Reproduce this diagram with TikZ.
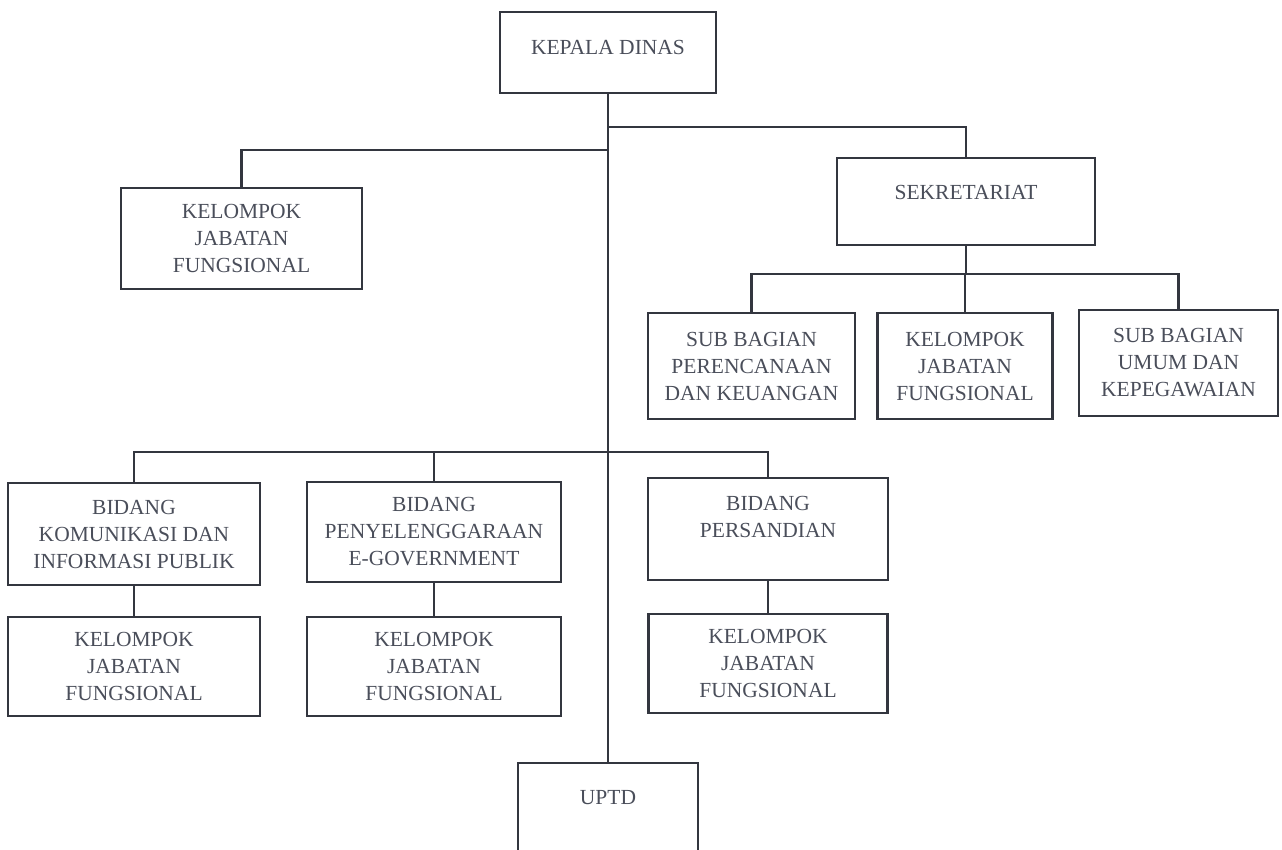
\documentclass[tikz,border=0pt]{standalone}
\usepackage{fontspec}
\setmainfont{Liberation Serif}
\definecolor{ink}{HTML}{33363F}
\definecolor{txtc}{HTML}{4A4E5A}
\begin{document}
\begin{tikzpicture}[x=1pt,y=-1pt,
  box/.style={draw=ink,line width=2.6pt,rectangle,inner sep=0pt,align=center,
    text=txtc,font=\fontsize{21.5}{27}\selectfont},
  conn/.style={draw=ink,line width=2.6pt}]
\useasboundingbox (0,0) rectangle (1282,850);
% boxes
\node[box,minimum width=216pt,minimum height=81pt,text depth=10pt] (kd) at (608,52.5) {KEPALA DINAS};
\node[box,minimum width=241pt,minimum height=101pt] (kjf0) at (241.5,238.5) {KELOMPOK\\JABATAN\\FUNGSIONAL};
\node[box,minimum width=258pt,minimum height=87pt,text depth=18pt] (sek) at (966,201.5) {SEKRETARIAT};
\node[box,minimum width=207pt,minimum height=106pt] (sb1) at (751.5,366) {SUB BAGIAN\\PERENCANAAN\\DAN KEUANGAN};
\node[box,minimum width=175pt,minimum height=106pt] (kjf1) at (965,366) {KELOMPOK\\JABATAN\\FUNGSIONAL};
\node[box,minimum width=199pt,minimum height=106pt] (sb3) at (1178.5,363) {SUB BAGIAN\\UMUM DAN\\KEPEGAWAIAN};
\node[box,minimum width=252pt,minimum height=102pt] (b1) at (134,534) {BIDANG\\KOMUNIKASI DAN\\INFORMASI PUBLIK};
\node[box,minimum width=254pt,minimum height=100pt] (b2) at (434,532) {BIDANG\\PENYELENGGARAAN\\E-GOVERNMENT};
\node[box,minimum width=240pt,minimum height=102pt,text depth=24pt] (b3) at (768,529) {BIDANG\\PERSANDIAN};
\node[box,minimum width=252pt,minimum height=99pt] (k1) at (134,666.5) {KELOMPOK\\JABATAN\\FUNGSIONAL};
\node[box,minimum width=254pt,minimum height=99pt] (k2) at (434,666.5) {KELOMPOK\\JABATAN\\FUNGSIONAL};
\node[box,minimum width=239pt,minimum height=99pt] (k3) at (768,663.5) {KELOMPOK\\JABATAN\\FUNGSIONAL};
\node[box,minimum width=180pt,minimum height=96pt,text depth=28pt] (uptd) at (608,811) {UPTD};
% junctions
\coordinate (j1) at (608,127);
\coordinate (j2) at (608,150);
\coordinate (j3) at (965,274);
\coordinate (j4) at (608,452);
% connectors
\draw[conn] (kd.south) -- (uptd.north);
\draw[conn] (j1) -| (sek.north);
\draw[conn] (j2) -| (kjf0.north);
\draw[conn] (sek.south) -- (sek.south |- j3);
\draw[conn] (j3) -| (sb1.north);
\draw[conn] (j3) -| (sb3.north);
\draw[conn] (kjf1.north |- j3) -- (kjf1.north);
\draw[conn] (j4) -| (b1.north);
\draw[conn] (j4) -| (b3.north);
\draw[conn] (b2.north |- j4) -- (b2.north);
\draw[conn] (b1.south) -- (k1.north);
\draw[conn] (b2.south) -- (k2.north);
\draw[conn] (b3.south) -- (k3.north);
\end{tikzpicture}
\end{document}
